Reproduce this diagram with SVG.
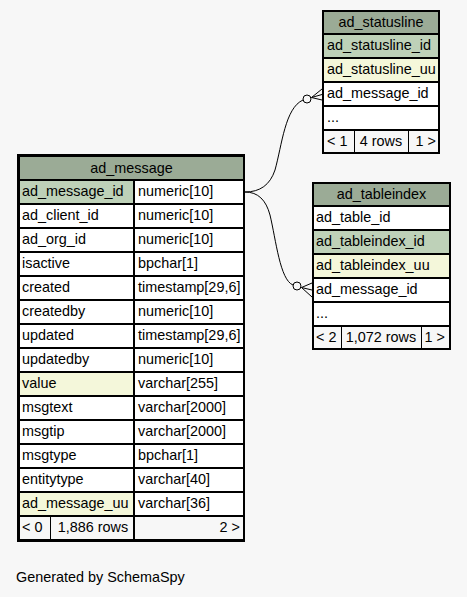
<svg xmlns="http://www.w3.org/2000/svg" width="467" height="597" viewBox="0 0 467 597">
<style>
text{font-family:"Liberation Sans",Arial,sans-serif;font-size:14.4px;fill:#000}
.c{text-anchor:middle}
.e{text-anchor:end}
.cell{stroke:#000;stroke-width:1}
.hd{fill:#9bab96}
.pk{fill:#bed1b8}
.ix{fill:#f4f7da}
.nm{fill:#ffffff}
.ft{fill:#f7f7f7}
.edge{fill:none;stroke:#000;stroke-width:1}
</style>
<rect x="0" y="0" width="467" height="597" fill="#f7f7f7"/>

<g id="connectors">
<path class="edge" d="M245,192 C260,192 270,185 275,170 C282,145 285,108 303,100"/>
<circle class="edge" cx="307" cy="99" r="4" fill="#f7f7f7"/>
<path class="edge" d="M311.5,97.5 L322,89 M311.5,97.5 L322,94.5 M311.5,97.5 L322,100"/>
<path class="edge" d="M245,192 C258,192 266,200 270,215 C276,240 280,280 293,285"/>
<circle class="edge" cx="297" cy="286" r="4" fill="#f7f7f7"/>
<path class="edge" d="M301.5,287.5 L312,283 M301.5,287.5 L312,290 M301.5,287.5 L312,297"/>
</g>

<g id="ad_message">
<rect x="18" y="155" width="226" height="386" fill="none" stroke="#000" stroke-width="2"/>
<rect class="cell hd" x="19.5" y="156.5" width="224" height="23"/>
<text class="c" x="131.5" y="173">ad_message</text>
<rect class="cell pk" x="19.5" y="180.5" width="114" height="23"/><rect class="cell nm" x="134.5" y="180.5" width="109" height="23"/>
<text x="22" y="196">ad_message_id</text><text x="138" y="196">numeric[10]</text>
<rect class="cell nm" x="19.5" y="204.5" width="114" height="23"/><rect class="cell nm" x="134.5" y="204.5" width="109" height="23"/>
<text x="22" y="220">ad_client_id</text><text x="138" y="220">numeric[10]</text>
<rect class="cell nm" x="19.5" y="228.5" width="114" height="23"/><rect class="cell nm" x="134.5" y="228.5" width="109" height="23"/>
<text x="22" y="244">ad_org_id</text><text x="138" y="244">numeric[10]</text>
<rect class="cell nm" x="19.5" y="252.5" width="114" height="23"/><rect class="cell nm" x="134.5" y="252.5" width="109" height="23"/>
<text x="22" y="268">isactive</text><text x="138" y="268">bpchar[1]</text>
<rect class="cell nm" x="19.5" y="276.5" width="114" height="23"/><rect class="cell nm" x="134.5" y="276.5" width="109" height="23"/>
<text x="22" y="292">created</text><text x="138" y="292">timestamp[29,6]</text>
<rect class="cell nm" x="19.5" y="300.5" width="114" height="23"/><rect class="cell nm" x="134.5" y="300.5" width="109" height="23"/>
<text x="22" y="316">createdby</text><text x="138" y="316">numeric[10]</text>
<rect class="cell nm" x="19.5" y="324.5" width="114" height="23"/><rect class="cell nm" x="134.5" y="324.5" width="109" height="23"/>
<text x="22" y="340">updated</text><text x="138" y="340">timestamp[29,6]</text>
<rect class="cell nm" x="19.5" y="348.5" width="114" height="23"/><rect class="cell nm" x="134.5" y="348.5" width="109" height="23"/>
<text x="22" y="364">updatedby</text><text x="138" y="364">numeric[10]</text>
<rect class="cell ix" x="19.5" y="372.5" width="114" height="23"/><rect class="cell nm" x="134.5" y="372.5" width="109" height="23"/>
<text x="22" y="388">value</text><text x="138" y="388">varchar[255]</text>
<rect class="cell nm" x="19.5" y="396.5" width="114" height="23"/><rect class="cell nm" x="134.5" y="396.5" width="109" height="23"/>
<text x="22" y="412">msgtext</text><text x="138" y="412">varchar[2000]</text>
<rect class="cell nm" x="19.5" y="420.5" width="114" height="23"/><rect class="cell nm" x="134.5" y="420.5" width="109" height="23"/>
<text x="22" y="436">msgtip</text><text x="138" y="436">varchar[2000]</text>
<rect class="cell nm" x="19.5" y="444.5" width="114" height="23"/><rect class="cell nm" x="134.5" y="444.5" width="109" height="23"/>
<text x="22" y="460">msgtype</text><text x="138" y="460">bpchar[1]</text>
<rect class="cell nm" x="19.5" y="468.5" width="114" height="23"/><rect class="cell nm" x="134.5" y="468.5" width="109" height="23"/>
<text x="22" y="484">entitytype</text><text x="138" y="484">varchar[40]</text>
<rect class="cell ix" x="19.5" y="492.5" width="114" height="23"/><rect class="cell nm" x="134.5" y="492.5" width="109" height="23"/>
<text x="22" y="508">ad_message_uu</text><text x="138" y="508">varchar[36]</text>
<rect class="cell ft" x="19.5" y="516.5" width="31" height="23"/><rect class="cell ft" x="50.5" y="516.5" width="83" height="23"/><rect class="cell ft" x="134.5" y="516.5" width="109" height="23"/>
<text x="22" y="532">&lt; 0</text><text class="c" x="93" y="532">1,886 rows</text><text class="e" x="240" y="532">2 &gt;</text>
</g>

<g id="ad_statusline">
<rect x="322.5" y="10.5" width="117" height="143" fill="none" stroke="#000" stroke-width="1"/>
<rect class="cell hd" x="323.5" y="11.5" width="115" height="22"/>
<text class="c" x="381" y="27">ad_statusline</text>
<rect class="cell pk" x="323.5" y="34.5" width="115" height="23"/>
<text x="327" y="50">ad_statusline_id</text>
<rect class="cell ix" x="323.5" y="58.5" width="115" height="23"/>
<text x="327" y="74">ad_statusline_uu</text>
<rect class="cell nm" x="323.5" y="82.5" width="115" height="23"/>
<text x="327" y="98">ad_message_id</text>
<rect class="cell nm" x="323.5" y="106.5" width="115" height="23"/>
<text x="327" y="122">...</text>
<rect class="cell ft" x="323.5" y="130.5" width="31" height="22"/><rect class="cell ft" x="354.5" y="130.5" width="54" height="22"/><rect class="cell ft" x="408.5" y="130.5" width="30" height="22"/>
<text x="327" y="146">&lt; 1</text><text class="c" x="381" y="146">4 rows</text><text class="e" x="436" y="146">1 &gt;</text>
</g>

<g id="ad_tableindex">
<rect x="312.5" y="182.5" width="138" height="167" fill="none" stroke="#000" stroke-width="1"/>
<rect class="cell hd" x="313.5" y="183.5" width="136" height="22"/>
<text class="c" x="381.5" y="199">ad_tableindex</text>
<rect class="cell nm" x="313.5" y="206.5" width="136" height="23"/>
<text x="316" y="222">ad_table_id</text>
<rect class="cell pk" x="313.5" y="230.5" width="136" height="23"/>
<text x="316" y="246">ad_tableindex_id</text>
<rect class="cell ix" x="313.5" y="254.5" width="136" height="23"/>
<text x="316" y="270">ad_tableindex_uu</text>
<rect class="cell nm" x="313.5" y="278.5" width="136" height="23"/>
<text x="316" y="294">ad_message_id</text>
<rect class="cell nm" x="313.5" y="302.5" width="136" height="23"/>
<text x="316" y="318">...</text>
<rect class="cell ft" x="313.5" y="326.5" width="28" height="22"/><rect class="cell ft" x="341.5" y="326.5" width="80" height="22"/><rect class="cell ft" x="421.5" y="326.5" width="28" height="22"/>
<text x="316" y="342">&lt; 2</text><text class="c" x="381" y="342">1,072 rows</text><text class="e" x="445" y="342">1 &gt;</text>
</g>

<text x="16" y="582">Generated by SchemaSpy</text>
</svg>
